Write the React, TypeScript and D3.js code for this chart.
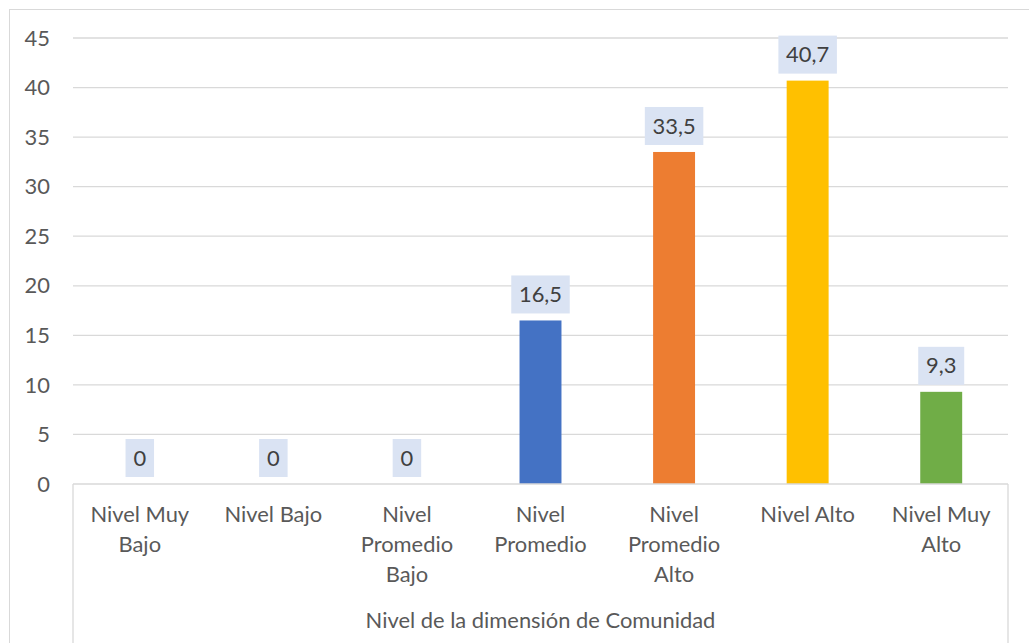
import React from "react";
import * as d3 from "d3";

const categories: string[][] = [
  ["Nivel Muy", "Bajo"],
  ["Nivel Bajo"],
  ["Nivel", "Promedio", "Bajo"],
  ["Nivel", "Promedio"],
  ["Nivel", "Promedio", "Alto"],
  ["Nivel Alto"],
  ["Nivel Muy", "Alto"],
];
const values: number[] = [0, 0, 0, 16.5, 33.5, 40.7, 9.3];
const colors: string[] = ["#4472C4", "#4472C4", "#4472C4", "#4472C4", "#ED7D31", "#FFC000", "#70AD47"];
const yTicks: number[] = [0, 5, 10, 15, 20, 25, 30, 35, 40, 45];
const axisTitle = "Nivel de la dimensión de Comunidad";

const W = 1029;
const H = 643;
const FONT = "Lato, 'Open Sans', sans-serif";
const FS = 21.9;

export default function App() {
  const left = 73, right = 1008, top = 38, bottom = 484;
  const x = d3.scaleBand<number>().domain(d3.range(values.length)).range([left, right]).paddingInner(0.686).paddingOuter(0.343);
  const y = d3.scaleLinear().domain([0, 45]).range([bottom, top]);
  const fmt = (v: number) => (Number.isInteger(v) ? String(v) : v.toFixed(1).replace(".", ","));
  const textW = (s: string) => s.split("").reduce((a, c) => a + (c === "," ? 5 : 12.5), 0);
  return (
    <svg width={W} height={H} style={{ position: "absolute", left: 0, top: 0, background: "#fff" }} fontFamily={FONT}>
      <rect x={9.5} y={9.5} width={1100} height={700} fill="#fff" stroke="#d9d9d9" strokeWidth={1} />
      {yTicks.map((t) => (
        <g key={t}>
          {t > 0 && <line x1={left} x2={right} y1={y(t)} y2={y(t)} stroke="#d9d9d9" strokeWidth={1.3} />}
          <text x={50} y={y(t)} dy="0.35em" textAnchor="end" fontSize={FS} fill="#595959">{t}</text>
        </g>
      ))}
      {values.map((v, i) => {
        const bx = x(i)!;
        const bw = x.bandwidth();
        const cx = bx + bw / 2;
        const label = fmt(v);
        const boxW = textW(label) + 16;
        const boxH = 38;
        const boxBottom = y(v) - 7;
        return (
          <g key={i}>
            {v > 0 && <rect x={bx} y={y(v)} width={bw} height={bottom - y(v)} fill={colors[i]} />}
            <rect x={cx - boxW / 2} y={boxBottom - boxH} width={boxW} height={boxH} fill="#DAE3F3" />
            <text x={cx} y={boxBottom - boxH / 2} dy="0.35em" textAnchor="middle" fontSize={FS} fill="#404040">{label}</text>
          </g>
        );
      })}
      <line x1={left} x2={right} y1={bottom} y2={bottom} stroke="#d9d9d9" strokeWidth={1.3} />
      <line x1={left} x2={left} y1={bottom} y2={H} stroke="#d9d9d9" strokeWidth={1.3} />
      <line x1={right} x2={right} y1={bottom} y2={H} stroke="#d9d9d9" strokeWidth={1.3} />
      {categories.map((lines, i) => {
        const cx = x(i)! + x.bandwidth() / 2;
        return (
          <text key={i} textAnchor="middle" fontSize={FS} fill="#595959">
            {lines.map((l, j) => (
              <tspan key={j} x={cx} y={515 + j * 30} dy="0.33em">{l}</tspan>
            ))}
          </text>
        );
      })}
      <text x={(left + right) / 2} y={620} dy="0.35em" textAnchor="middle" fontSize={FS} fill="#595959">{axisTitle}</text>
    </svg>
  );
}
